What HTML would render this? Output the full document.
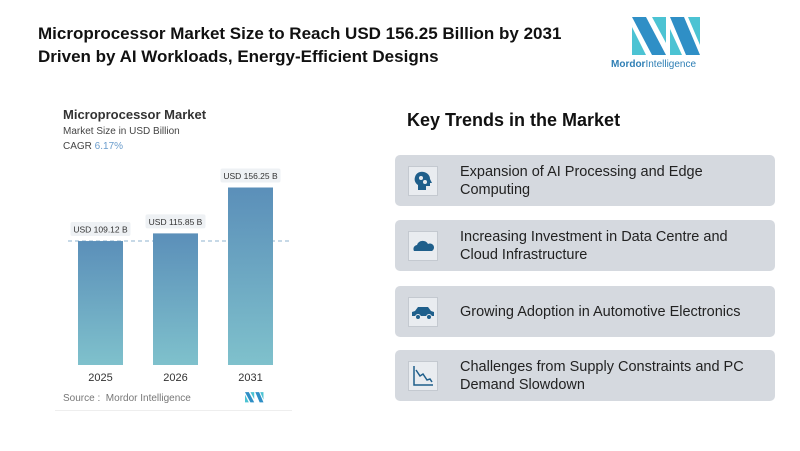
<!DOCTYPE html><html><head><meta charset="utf-8"><style>
body{margin:0;width:800px;height:451px;background:#fff;font-family:"Liberation Sans",sans-serif;position:relative;overflow:hidden}
.a{position:absolute}
.card{position:absolute;left:395px;width:380px;height:51px;background:#d5d9df;border-radius:5px}
.card .ic{position:absolute;left:13px;top:11px;width:28px;height:28px;background:#e9ecf0;border:1px solid #c4c9d0}
.card .t{position:absolute;left:65px;top:0;height:51px;display:flex;align-items:center;font-size:14.5px;color:#222;line-height:18px;width:300px}
</style></head><body>
<div class="a" style="left:38px;top:22px;font-size:17px;font-weight:bold;color:#111;line-height:23px">Microprocessor Market Size to Reach USD 156.25 Billion by 2031<br>Driven by AI Workloads, Energy-Efficient Designs</div>
<svg class="a" style="left:632px;top:17px" width="70" height="40" viewBox="0 0 70 40">
<polygon points="0,0 14,0 34,38 20,38" fill="#2f8fc6"/><polygon points="0,10 0,38 14,38" fill="#4cc3d3"/><polygon points="20,0 34,0 34,26" fill="#4cc3d3"/><polygon points="38,0 52,0 68,38 54,38" fill="#2f8fc6"/><polygon points="56,0 68,0 68,28" fill="#4cc3d3"/><polygon points="38,12 38,38 50,38" fill="#4cc3d3"/></svg>
<div class="a" style="left:611px;top:59px;font-size:10px;color:#2f7fb5"><b>Mordor</b>Intelligence</div>
<div class="a" style="left:63px;top:107px;font-size:13px;font-weight:bold;color:#333">Microprocessor Market</div>
<div class="a" style="left:63px;top:126px;font-size:10px;color:#444">Market Size in USD Billion</div>
<div class="a" style="left:63px;top:141px;font-size:10px;color:#444">CAGR <span style="color:#6a9ccc">6.17%</span></div>
<svg id="ch" class="a" style="left:0;top:0" width="300" height="420">
<defs><linearGradient id="g" x1="0" y1="0" x2="0" y2="1"><stop offset="0" stop-color="#5b8fb9"/><stop offset="1" stop-color="#7fc1cc"/></linearGradient></defs></svg>
<div class="a" style="left:63px;top:393px;font-size:10px;color:#777">Source :&nbsp; Mordor Intelligence</div>
<svg class="a" style="left:245px;top:392px" width="19" height="11" viewBox="0 0 70 40">
<polygon points="0,0 14,0 34,38 20,38" fill="#2f8fc6"/><polygon points="0,10 0,38 14,38" fill="#4cc3d3"/><polygon points="20,0 34,0 34,26" fill="#4cc3d3"/><polygon points="38,0 52,0 68,38 54,38" fill="#2f8fc6"/><polygon points="56,0 68,0 68,28" fill="#4cc3d3"/></svg>
<div class="a" style="left:55px;top:410px;width:237px;height:1px;background:#eee"></div>
<div class="a" style="left:407px;top:110px;font-size:18px;font-weight:bold;color:#111">Key Trends in the Market</div>
<div class="card" style="top:155px"><div class="ic"><svg width="28" height="28"><path d="M9 23v-5c-3-2-4-5-3-8 1-4 5-6 9-5 4 1 6 4 6 7l2 4h-2v3h-4v4z" fill="#1f5f8b"/><circle cx="12" cy="11" r="2" fill="#e9ecf0"/><circle cx="16" cy="15" r="2" fill="#e9ecf0"/></svg></div><div class="t">Expansion of AI Processing and Edge Computing</div></div>
<div class="card" style="top:220px"><div class="ic"><svg width="28" height="28"><path d="M5 19a4 4 0 0 1 3-6 6 6 0 0 1 11-1 4 4 0 0 1 4 7z" fill="#1f5f8b"/></svg></div><div class="t">Increasing Investment in Data Centre and Cloud Infrastructure</div></div>
<div class="card" style="top:286px"><div class="ic"><svg width="28" height="28"><path d="M3 18v-4l3-1 3-4h10l3 4 3 1v4z" fill="#1f5f8b"/><circle cx="9" cy="19" r="2.5" fill="#1f5f8b" stroke="#e9ecf0"/><circle cx="20" cy="19" r="2.5" fill="#1f5f8b" stroke="#e9ecf0"/></svg></div><div class="t">Growing Adoption in Automotive Electronics</div></div>
<div class="card" style="top:350px"><div class="ic"><svg width="28" height="28"><path d="M5 4v19h19" stroke="#1f5f8b" stroke-width="1.5" fill="none"/><path d="M7 8l4 6 3-2 4 6 3-1 2 3" stroke="#1f5f8b" stroke-width="1.5" fill="none"/></svg></div><div class="t">Challenges from Supply Constraints and PC Demand Slowdown</div></div>
<script>
const years=["2025","2026","2031"];
const values=[109.12,115.85,156.25];
const labels=["USD 109.12 B","USD 115.85 B","USD 156.25 B"];
const svg=document.getElementById('ch');const NS="http://www.w3.org/2000/svg";
const base=365,k=1.136,x0=78,step=75,bw=45;
const y=v=>base-v*k, x=i=>x0+i*step;
function mk(t,a){const e=document.createElementNS(NS,t);for(const n in a)e.setAttribute(n,a[n]);svg.appendChild(e);return e;}
const dl=mk('line',{x1:68,x2:292,y1:y(values[0]),y2:y(values[0]),stroke:'#8fb3cf','stroke-dasharray':'4 3'});


values.forEach((v,i)=>{
const r=mk('rect',{x:x(i),y:y(v),width:bw,height:base-y(v),fill:'url(#g)'});


const bg=mk('rect',{x:x(i)+bw/2-30,y:y(v)-19,width:60,height:14,rx:2,fill:'#eef1f4'});


const t=mk('text',{x:x(i)+bw/2,y:y(v)-8.5,'text-anchor':'middle','font-size':'8.5',fill:'#333'});t.textContent=labels[i];


const yt=mk('text',{x:x(i)+bw/2,y:base+16,'text-anchor':'middle','font-size':'11',fill:'#333'});yt.textContent=years[i];


});
</script>
</body></html>
